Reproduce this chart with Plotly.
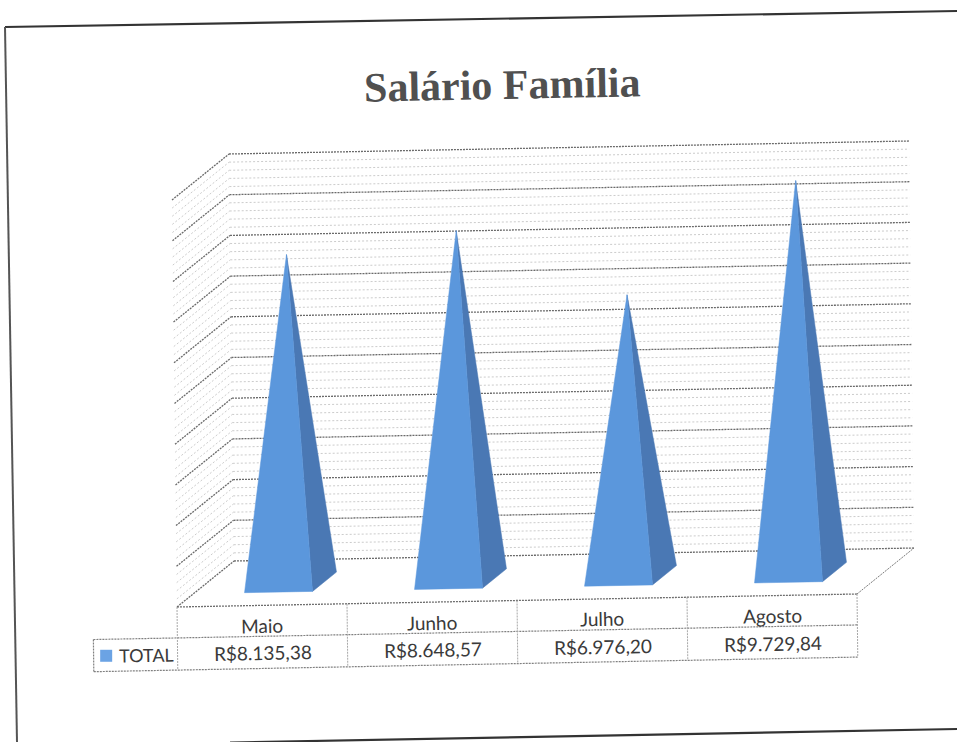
import plotly.graph_objects as go

# ---- data ----
categories = ["Maio", "Junho", "Julho", "Agosto"]
values = [8135.38, 8648.57, 6976.20, 9729.84]
value_labels = ["R$8.135,38", "R$8.648,57", "R$6.976,20", "R$9.729,84"]
series_name = "TOTAL"
title_text = "Salário Família"
major_ticks = [0, 1000, 2000, 3000, 4000, 5000, 6000, 7000, 8000, 9000, 10000]
minor_ticks = [v for v in range(0, 10001, 200) if v % 1000]

# ---- 3D look: oblique projection of (category, value, depth) on the flat axes ----
W, H = 957, 742
PX_PER_CAT, PX_PER_VAL = 170.0, 0.0407
X0_PX, Y0_PX = 177.0, 607.0
DEPTH_U, DEPTH_V = 57 / PX_PER_CAT, 46 / PX_PER_VAL   # depth of the floor
SKEW_V = 3.25 / PX_PER_VAL                             # scan tilt
LEAN_U = 5 / PX_PER_CAT / 10000
PEAK_FACTOR = 0.99

def P(u, v, d=0.0):
    return u + DEPTH_U * d - LEAN_U * v, v + DEPTH_V * d + SKEW_V * u

def poly(points):
    pts = [P(*p) for p in points]
    pts.append(pts[0])
    return [p[0] for p in pts], [p[1] for p in pts]

def segments(pairs):
    xs, ys = [], []
    for a, b in pairs:
        pa, pb = P(*a), P(*b)
        xs += [pa[0], pb[0], None]
        ys += [pa[1], pb[1], None]
    return xs, ys

fig = go.Figure()
NC = len(categories)
line = lambda c, w, dash="2px,1px": dict(color=c, width=w, dash=dash)

def add_lines(pairs, ln):
    xs, ys = segments(pairs)
    fig.add_trace(go.Scatter(x=xs, y=ys, mode="lines", line=ln, hoverinfo="skip", showlegend=False))

# walls
add_lines([((0, v, 0), (0, v, 1)) for v in minor_ticks] + [((0, v, 1), (NC, v, 1)) for v in minor_ticks],
          line("#cccccc", 1, "2px,2px"))
add_lines([((0, v, 0), (0, v, 1)) for v in major_ticks] + [((0, v, 1), (NC, v, 1)) for v in major_ticks],
          line("#6a6a6a", 1.3))
# floor edges
add_lines([((NC, 0, 0), (NC, 0, 1))], line("#7a7a7a", 1))

# table
ROW1, ROW2 = -760, -1550
LEFT = -0.494
add_lines([((0, 0, 0), (NC, 0, 0))], line("#6e6e6e", 1.3))
add_lines([((LEFT, ROW1, 0), (NC, ROW1, 0)), ((LEFT, ROW2, 0), (NC, ROW2, 0)), ((LEFT, ROW1, 0), (LEFT, ROW2, 0))],
          line("#808080", 1.2))
add_lines([((i, 0, 0), (i, ROW2, 0)) for i in range(NC + 1)], line("#a8a8a8", 1))

# pyramids
HALF_U, D_FRONT, D_BACK = 0.2, 0.29, 0.71
FRONT_COLOR, SIDE_COLOR = "#5b97dc", "#4a78b4"
for i, (cat, val) in enumerate(zip(categories, values)):
    c = i + 0.5
    apex = (c, val * PEAK_FACTOR, 0.5)
    fl, fr = (c - HALF_U, 0, D_FRONT), (c + HALF_U, 0, D_FRONT)
    br = (c + HALF_U, 0, D_BACK)
    x, y = poly([fr, br, apex])
    fig.add_trace(go.Scatter(x=x, y=y, mode="lines", fill="toself", fillcolor=SIDE_COLOR,
                             line=dict(color=SIDE_COLOR, width=0.5), name=cat, showlegend=False, hoverinfo="skip"))
    x, y = poly([fl, fr, apex])
    fig.add_trace(go.Scatter(x=x, y=y, mode="lines", fill="toself", fillcolor=FRONT_COLOR,
                             line=dict(color=FRONT_COLOR, width=0.5), name=cat, showlegend=False,
                             hovertext=f"{cat}: {value_labels[i]}", hoverinfo="text"))

# legend key in the table
kx, ky = P(-0.42, -1165, 0)
fig.add_trace(go.Scatter(x=[kx], y=[ky], mode="markers", name=series_name, showlegend=False,
                         marker=dict(symbol="square", size=12, color="#6ba3e4"), hoverinfo="skip"))

ANGLE = -1.1
TEXT = "#3a3a3a"
ann = []
def label(text, u, v, size=19):
    x, y = P(u, v, 0)
    ann.append(dict(text=text, x=x, y=y, xref="x", yref="y", showarrow=False, textangle=ANGLE,
                    xanchor="center", yanchor="middle", font=dict(family="Lato", size=size, color=TEXT)))
for i, (cat, lab) in enumerate(zip(categories, value_labels)):
    label(cat, i + 0.5, -490)
    label(lab, i + 0.5, -1170)
label(series_name, -0.18, -1165, 18)
ann.append(dict(text=f"<b>{title_text}</b>", x=502 / W, y=1 - 85 / H, xref="paper", yref="paper", showarrow=False,
                textangle=ANGLE, xanchor="center", yanchor="middle",
                font=dict(family="Liberation Serif", size=42, color="#505050")))

# page frame of the scanned sheet (paper fractions)
def frame(x0, y0, x1, y1, w, c="#333333"):
    return dict(type="line", xref="paper", yref="paper", x0=x0 / W, x1=x1 / W, y0=1 - y0 / H, y1=1 - y1 / H,
                line=dict(color=c, width=w))
shapes = [frame(5, 27, 957, 11, 2.2), frame(5, 27, 17, 742, 2, "#555555"), frame(230, 742.5, 957, 729, 2.2)]

fig.update_layout(
    width=W, height=H, margin=dict(l=0, r=0, t=0, b=0),
    paper_bgcolor="white", plot_bgcolor="white", showlegend=False,
    xaxis=dict(range=[-X0_PX / PX_PER_CAT, (W - X0_PX) / PX_PER_CAT], visible=False, fixedrange=True),
    yaxis=dict(range=[(Y0_PX - H) / PX_PER_VAL, Y0_PX / PX_PER_VAL], visible=False, fixedrange=True),
    annotations=ann, shapes=shapes,
)
fig.write_html("out.html", post_script="document.body.style.margin='0';", config={"displayModeBar": False})
